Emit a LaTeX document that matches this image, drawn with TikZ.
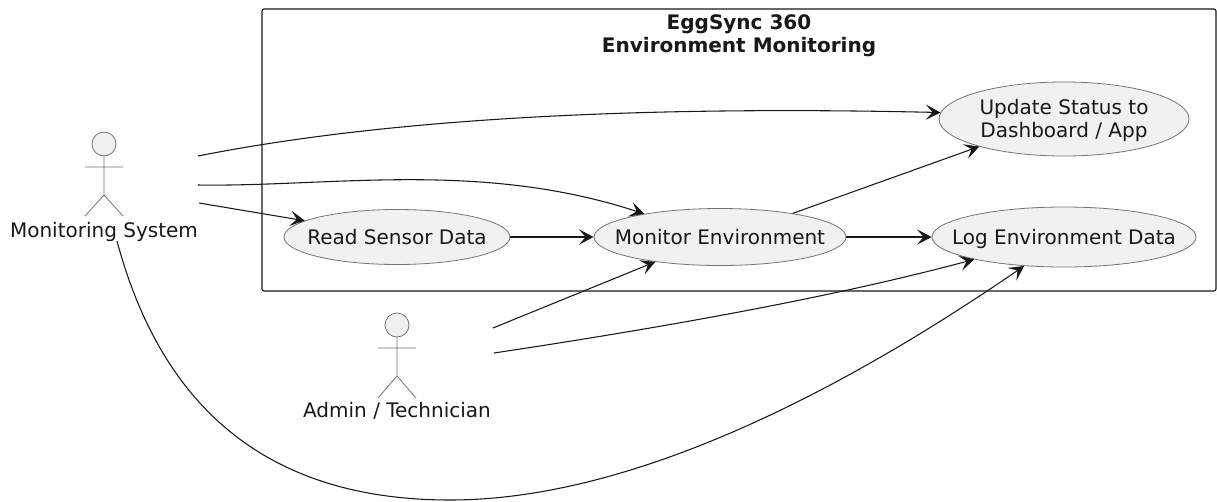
\documentclass[tikz,border=0pt]{standalone}
\usepackage{fontspec}
\setmainfont{DejaVu Sans}
\usetikzlibrary{positioning, arrows.meta, shapes.geometric}
\definecolor{usefill}{RGB}{241, 241, 241}
\definecolor{useline}{RGB}{24, 24, 24}

\begin{document}
\begin{tikzpicture}[
  x=0.75pt, y=-0.75pt,
  every node/.style={font=\fontsize{15pt}{17.3pt}\selectfont, text=useline},
  oneline/.style={text height=14pt, text depth=3.5pt},
  usecase/.style={ellipse, draw=useline!60, line width=0.6pt, fill=usefill, inner xsep=-20pt, inner ysep=0pt, align=center},
  head/.style={circle, draw=useline!60, line width=0.6pt, fill=usefill, inner sep=0pt, minimum size=18pt},
  limb/.style={draw=useline!60, line width=0.6pt},
  link/.style={draw=useline, line width=0.8pt, ->},
  >={Stealth[length=11pt, width=11.5pt, inset=5pt]}
]
\useasboundingbox (0,0) rectangle (1217,501);

% system boundary
\node[draw=useline, line width=0.8pt, rounded corners=1.5pt, minimum width=954*0.75pt, minimum height=282*0.75pt, inner sep=0pt] (system) at (739,150) {};
\node[font=\fontsize{15pt}{17.3pt}\selectfont\bfseries, align=center] (title) at (739,35.5) {EggSync 360\\Environment Monitoring};

% use cases
\node[usecase, oneline, minimum width=226*0.75pt, minimum height=55*0.75pt] (readdata) at (397,237) {Read Sensor Data};
\node[usecase, oneline, minimum width=252*0.75pt, minimum height=57*0.75pt] (monitorenv) at (720,237) {Monitor Environment};
\node[usecase, text depth=0.5pt, minimum width=250*0.75pt, minimum height=74*0.75pt] (updatestatus) at (1064,119) {Update Status to\\Dashboard / App};
\node[usecase, oneline, minimum width=264*0.75pt, minimum height=60*0.75pt] (logdata) at (1064,237) {Log Environment Data};

% actors
\node[head] (monhead) at (104,144) {};
\node[oneline] (monlabel) at (104,230) {Monitoring System};
\draw[limb] (monhead.south) -- (104,195) (85,167) -- (123,167) (85,216) -- (104,195) -- (123,216);
\node[head] (admhead) at (397,325) {};
\node[oneline] (admlabel) at (397,410) {Admin / Technician};
\draw[limb] (admhead.south) -- (397,376) (378,348) -- (416,348) (378,398) -- (397,376) -- (416,398);

% free ends next to the actors
\coordinate (monA) at (198,156);
\coordinate (monB) at (198,185);
\coordinate (monC) at (199,203);
\coordinate (monD) at (117,241);
\coordinate (admA) at (493,328);
\coordinate (admB) at (494,353);

\draw[link] (monA) .. controls (420,112) and (700,107) .. (updatestatus.177);
\draw[link] (monB) .. controls (330,187) and (480,160) .. (monitorenv.163);
\draw[link] (monC) -- (readdata.170);
\draw[link] (readdata) -- (monitorenv);
\draw[link] (monitorenv) -- (logdata);
\draw[link] (monitorenv.18.4) -- (updatestatus.198.4);
\draw[link] (admA) -- (monitorenv.201);
\draw[link] (admB) .. controls (660,328) and (830,298) .. (logdata.194);
\draw[link] (monD) .. controls (165,420) and (280,500) .. (450,500) .. controls (640,500) and (855,382) .. (logdata.216.6);

\end{tikzpicture}
\end{document}
